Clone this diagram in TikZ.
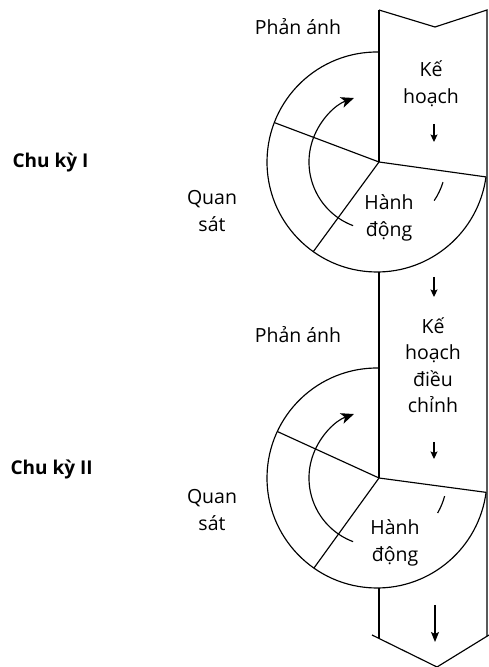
\documentclass[tikz,border=0pt]{standalone}
\usepackage{fontspec}
\setmainfont{Open Sans}
\usetikzlibrary{calc,arrows.meta}
\begin{document}
\begin{tikzpicture}[x=1pt,y=1pt,line width=1.15pt,
  lbl/.style={font=\fontsize{19.5}{26.5}\selectfont,align=center,inner sep=0pt},
  cyc/.style={font=\fontsize{19}{22}\selectfont\bfseries,anchor=west,inner sep=0pt},
  turn/.style={-{Stealth[length=13pt,width=11pt,inset=3.5pt]}},
  down/.style={-{Stealth[length=7.5pt,width=7pt,inset=1.5pt]}},
  bigdown/.style={-{Stealth[length=10pt,width=8pt,inset=2pt]}}]
\useasboundingbox (0,0) rectangle (489,667);

% centres of the two cycles and the hubs on the band edge
\coordinate (C1) at (377,505);
\coordinate (H1) at (379,505);
\coordinate (C2) at (377,189);
\coordinate (H2) at (379,189);

% band: notched top, pointed bottom
\coordinate (TL) at (379,657);
\coordinate (TN) at (435,640);
\coordinate (TR) at (487,657);
\coordinate (BL) at (372,32);
\coordinate (BT) at (437,0);
\coordinate (BR) at (489,32);
\coordinate (LE) at (379,28.6);
\coordinate (RE) at (487,30.8);
\draw[line join=miter] (TL) -- (TN) -- (TR) -- (RE);
\draw (BL) -- (BT) -- (BR);
\draw (TL) -- (H1);
\draw (379,395) -- (H2);
\draw (379,79) -- (LE);

% cycle I
\draw ($(C1)+(88.96:110)$) arc[start angle=88.96, end angle=352.2, radius=110];
\draw (H1) -- ($(C1)+(159:110)$);
\draw (H1) -- ($(C1)+(234.6:110)$);
\draw (H1) -- ($(C1)+(-7.8:110)$);
\draw[turn] ($(C1)+(249.4:68)$) arc[start angle=249.4, end angle=109.8, radius=68];
\draw ($(C1)+(-34:69)$) arc[start angle=-34, end angle=-17, radius=69];

% cycle II
\draw ($(C2)+(88.96:110)$) arc[start angle=88.96, end angle=352.5, radius=110];
\draw (H2) -- ($(C2)+(155:110)$);
\draw (H2) -- ($(C2)+(235:110)$);
\draw (H2) -- ($(C2)+(-7.5:110)$);
\draw[turn] ($(C2)+(249.4:68)$) arc[start angle=249.4, end angle=109.8, radius=68];
\draw ($(C2)+(-30:70)$) arc[start angle=-30, end angle=-15, radius=70];

% arrows down the band
\coordinate (a1s) at (434,543); \coordinate (a1e) at (434,525);
\coordinate (a2s) at (434,390); \coordinate (a2e) at (434,370);
\coordinate (a3s) at (434,225); \coordinate (a3e) at (434,208);
\coordinate (a4s) at (435,62);  \coordinate (a4e) at (435,25);
\draw[down] (a1s) -- (a1e);
\draw[down] (a2s) -- (a2e);
\draw[down] (a3s) -- (a3e);
\draw[bigdown] (a4s) -- (a4e);

% labels
\node[lbl] (pa1) at (298,640) {Phản ánh};
\node[lbl] (kh1) at (431,583) {Kế\\hoạch};
\node[lbl] (hd1) at (389,449) {Hành\\động};
\node[lbl] (qs1) at (212,456) {Quan\\sát};
\node[cyc] (ck1) at (12,504) {Chu kỳ I};

\node[lbl] (pa2) at (298,332) {Phản ánh};
\node[lbl] (kh2) at (433,302) {Kế\\hoạch\\điều\\chỉnh};
\node[lbl] (hd2) at (395,124) {Hành\\động};
\node[lbl] (qs2) at (212,157) {Quan\\sát};
\node[cyc] (ck2) at (10,197) {Chu kỳ II};
\end{tikzpicture}
\end{document}
